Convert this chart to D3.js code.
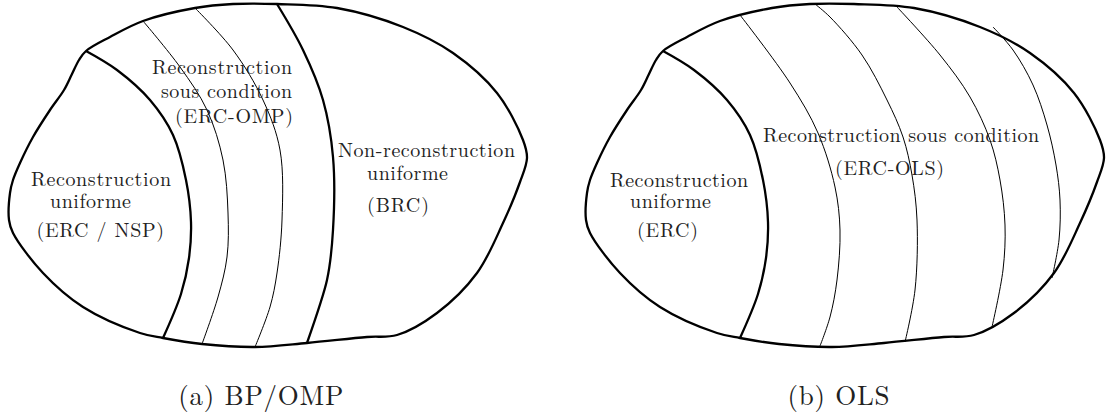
<!DOCTYPE html>
<html lang="en">
<head>
<meta charset="UTF-8">
<title>regions de reconstruction</title>
<script src="https://cdn.jsdelivr.net/npm/d3@7"></script>
<style>
    body{ margin: 0; background: #fff; }
    svg{ display: block; }
    .lbl{
        font-family: "Latin Modern Roman", "CMU Serif", "Liberation Serif", serif;
        font-size: 20px;
        fill: #222;
    }
    .cap{ font-size: 27px; }
    .thick{ fill: none; stroke: #000; stroke-width: 2.3; }
    .thin{ fill: none; stroke: #000; stroke-width: 1; }
</style>
</head>
<body>
<svg id="fig" width="1108" height="418"></svg>
<script>
    // shape of the set, same for both panels (panel coords)
    let outline = [[86,51],[110,37],[143,21],[195,8],[233,4],[277,4],[337,8],[403,27],[453,53],[497,93],
        [523,140],[527,158],[520,182],[503,223],[477,273],[437,313],[397,335],[367,337],[307,343],[255,347],
        [202,344],[163,338],[140,333],[83,307],[43,273],[13,233],[9,220],[10,193],[13,180],[20,163],
        [33,137],[50,110],[64,90],[72,74],[79,60]]

    // boundary of the uniform recovery region (thick), both panels
    let uniformEdge = [[86,51],[117,70],[150,100],[173,135],[186,180],[191,222],[189,258],[181,294],[163,338]]

    // panel (a) BP/OMP
    let ompLevels = [
        [[143,21],[180,67],[207,110],[223,160],[228,213],[227,257],[218,297],[202,344]],
        [[195,8],[233,50],[263,100],[280,150],[282,220],[277,273],[270,307],[255,347]]
    ]
    let brcEdge = [[277,4],[303,50],[323,100],[333,157],[333,230],[327,280],[307,343]]

    // panel (b) OLS
    let olsLevels = [
        [[163,15],[213,83],[241,133],[258,187],[263,230],[260,280],[253,317],[243,346]],
        [[238,4],[253,17],[285,55],[310,100],[326,137],[335,175],[340,220],[338,290],[328,342]],
        [[320,7],[363,55],[393,97],[413,140],[423,180],[428,225],[426,270],[415,327]],
        [[416,27],[436,50],[456,85],[470,125],[479,165],[483,200],[482,240],[475,278]]
    ]

    // texts
    let labelsA = ["Reconstruction", "sous condition", "(ERC-OMP)",
                   "Non-reconstruction", "uniforme", "(BRC)",
                   "Reconstruction", "uniforme", "(ERC / NSP)"]
    let labelsB = ["Reconstruction", "uniforme", "(ERC)",
                   "Reconstruction sous condition", "(ERC-OLS)"]
    let captions = ["(a) BP/OMP", "(b) OLS"]

    // where each text sits: [left, baseline, width]
    let placeA = [[152,73.5,140],[161,97.5,131],[175,123,118],
                  [338,156.5,177],[367,180,81],[367,211.5,62],
                  [31,186,140],[50,208.3,81],[36.5,236.5,127.5]]
    let placeB = [[33,186.7,138],[53,208.3,81],[60,236.7,61],
                  [186,141.7,276],[258,175,109]]
    let capPlace = [[178.3,405.3,165],[210.5,405.3,102]]

    let panelOffset = [0, 577]

    let svg = d3.select("#fig")

    function panel(i, levels, edges, labels, place){
        let off = panelOffset[i]
        let x = d3.scaleLinear().domain([0, 560]).range([off, off + 560])
        let y = d3.scaleLinear().domain([0, 418]).range([0, 418])
        let g = svg.append("g")

        let curve = d3.line().x(d => x(d[0])).y(d => y(d[1])).curve(d3.curveCatmullRom.alpha(0.5))
        let closed = d3.line().x(d => x(d[0])).y(d => y(d[1])).curve(d3.curveCatmullRomClosed.alpha(0.5))

        g.selectAll(".lvl").data(levels).enter()
            .append("path").attr("class", "thin").attr("d", curve)
        g.selectAll(".edge").data(edges).enter()
            .append("path").attr("class", "thick").attr("d", curve)
        g.append("path").datum(outline).attr("class", "thick").attr("d", closed)

        g.selectAll("text.lbl").data(labels).enter()
            .append("text")
            .attr("class", "lbl")
            .attr("x", (d, k) => x(place[k][0]))
            .attr("y", (d, k) => y(place[k][1]))
            .attr("textLength", (d, k) => place[k][2])
            .attr("lengthAdjust", "spacing")
            .text(d => d)

        g.append("text")
            .attr("class", "lbl cap")
            .attr("x", x(capPlace[i][0]))
            .attr("y", y(capPlace[i][1]))
            .attr("textLength", capPlace[i][2])
            .attr("lengthAdjust", "spacing")
            .text(captions[i])
    }

    panel(0, ompLevels, [uniformEdge, brcEdge], labelsA, placeA)
    panel(1, olsLevels, [uniformEdge], labelsB, placeB)
</script>
</body>
</html>
